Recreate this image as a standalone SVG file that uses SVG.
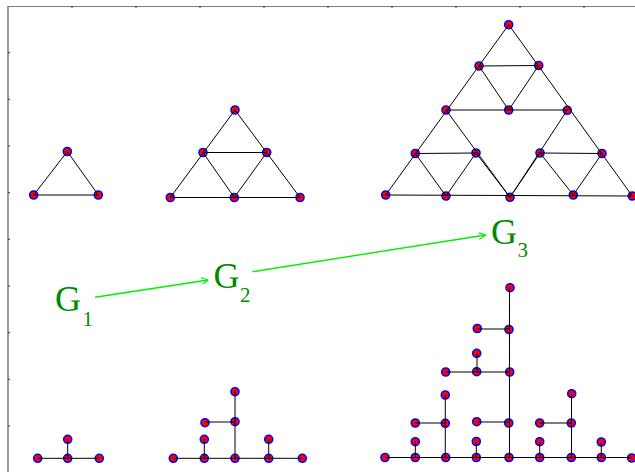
<svg xmlns="http://www.w3.org/2000/svg" width="635" height="472" viewBox="0 0 635 472">
<defs>
<style>
.frame{stroke:#808080;fill:none}
.tick{stroke:#333;stroke-width:1;fill:none}
.nd{fill:#ff0000;stroke:#0000ff;stroke-width:1.6}
.ed{stroke:#000;stroke-width:1;fill:none}
.arr{stroke:#00f000;stroke-width:1.4;fill:none}
.lbl{font-family:"Liberation Serif",serif;fill:#008a00}
.g{font-size:36px}
.s{font-size:21px}
</style>
<marker id="ah" viewBox="0 0 10 10" refX="10" refY="5" markerWidth="7" markerHeight="7" markerUnits="userSpaceOnUse" orient="auto">
<path d="M0,0 L10,5 L0,10" fill="none" stroke="#00f000" stroke-width="1.6"/>
</marker>
</defs>
<rect width="635" height="472" fill="#fff"/>
<g id="frame">
<line class="frame" x1="8" y1="6" x2="8" y2="472" stroke-width="1.6"/>
<line class="frame" x1="8" y1="6.5" x2="635" y2="6.5" stroke-width="1.2"/>
<path class="tick" d="M72,6 v2 M136,6 v2 M200,6 v2 M264,6 v2 M328,6 v2 M392,6 v2 M456,6 v2 M520,6 v2 M584,6 v2"/>
<path class="tick" d="M8,52.7 h2 M8,99.3 h2 M8,146 h2 M8,192.7 h2 M8,239.3 h2 M8,286 h2 M8,332.7 h2 M8,379.3 h2 M8,426 h2"/>
</g>
<g id="G1-triangle">
<circle class="nd" cx="67.3" cy="151.5" r="4"/>
<circle class="nd" cx="33.7" cy="195" r="4"/>
<circle class="nd" cx="98.3" cy="195" r="4"/>
</g>
<g id="G2-triangle">
<circle class="nd" cx="235" cy="110" r="4"/>
<circle class="nd" cx="203" cy="152.5" r="4"/>
<circle class="nd" cx="266.7" cy="152.5" r="4"/>
<circle class="nd" cx="170.3" cy="197.5" r="4"/>
<circle class="nd" cx="234.3" cy="197.5" r="4"/>
<circle class="nd" cx="300" cy="197.5" r="4"/>
</g>
<g id="G3-triangle">
<circle class="nd" cx="508.7" cy="24.7" r="4"/>
<circle class="nd" cx="479" cy="66" r="4"/>
<circle class="nd" cx="538.7" cy="65.5" r="4"/>
<circle class="nd" cx="446" cy="110" r="4"/>
<circle class="nd" cx="508.7" cy="110" r="4"/>
<circle class="nd" cx="567.3" cy="110.3" r="4"/>
<circle class="nd" cx="415.3" cy="153.5" r="4"/>
<circle class="nd" cx="476" cy="153" r="4"/>
<circle class="nd" cx="540" cy="153" r="4"/>
<circle class="nd" cx="602" cy="153.5" r="4"/>
<circle class="nd" cx="385.7" cy="195" r="4"/>
<circle class="nd" cx="446" cy="196" r="4"/>
<circle class="nd" cx="510" cy="197.3" r="4"/>
<circle class="nd" cx="573.3" cy="195" r="4"/>
<circle class="nd" cx="632.3" cy="196" r="4"/>
</g>
<g id="T1-tree">
<circle class="nd" cx="37.7" cy="458.3" r="4"/>
<circle class="nd" cx="67.7" cy="458.3" r="4"/>
<circle class="nd" cx="99.3" cy="458.3" r="4"/>
<circle class="nd" cx="67.7" cy="439.3" r="4"/>
</g>
<g id="T2-tree">
<circle class="nd" cx="173.3" cy="458.3" r="4"/>
<circle class="nd" cx="204.3" cy="458.3" r="4"/>
<circle class="nd" cx="235" cy="458.3" r="4"/>
<circle class="nd" cx="268.7" cy="458.3" r="4"/>
<circle class="nd" cx="302.3" cy="458.3" r="4"/>
<circle class="nd" cx="204.3" cy="439.3" r="4"/>
<circle class="nd" cx="268.7" cy="439.3" r="4"/>
<circle class="nd" cx="205" cy="422.7" r="4"/>
<circle class="nd" cx="235" cy="421.7" r="4"/>
<circle class="nd" cx="235" cy="391.7" r="4"/>
</g>
<g id="T3-tree">
<circle class="nd" cx="385" cy="457.5" r="4"/>
<circle class="nd" cx="415.3" cy="457.5" r="4"/>
<circle class="nd" cx="445.7" cy="457.5" r="4"/>
<circle class="nd" cx="476.3" cy="457.5" r="4"/>
<circle class="nd" cx="509" cy="457.5" r="4"/>
<circle class="nd" cx="539.7" cy="457.5" r="4"/>
<circle class="nd" cx="571.3" cy="457.5" r="4"/>
<circle class="nd" cx="601.3" cy="457.5" r="4"/>
<circle class="nd" cx="631.7" cy="458" r="4"/>
<circle class="nd" cx="415.3" cy="441.7" r="4"/>
<circle class="nd" cx="476.3" cy="441.5" r="4"/>
<circle class="nd" cx="539.7" cy="441.7" r="4"/>
<circle class="nd" cx="601.3" cy="442" r="4"/>
<circle class="nd" cx="415.3" cy="423" r="4"/>
<circle class="nd" cx="445.3" cy="423.3" r="4"/>
<circle class="nd" cx="476.7" cy="421.7" r="4"/>
<circle class="nd" cx="508.7" cy="423" r="4"/>
<circle class="nd" cx="539.7" cy="423" r="4"/>
<circle class="nd" cx="571.3" cy="423" r="4"/>
<circle class="nd" cx="445.3" cy="395" r="4"/>
<circle class="nd" cx="571.7" cy="393.7" r="4"/>
<circle class="nd" cx="445.7" cy="372" r="4"/>
<circle class="nd" cx="476.7" cy="371.7" r="4"/>
<circle class="nd" cx="509.7" cy="372" r="4"/>
<circle class="nd" cx="476.7" cy="353.3" r="4"/>
<circle class="nd" cx="477.3" cy="328.5" r="4"/>
<circle class="nd" cx="509" cy="329.5" r="4"/>
<circle class="nd" cx="510" cy="287.7" r="4"/>
</g>
<g id="connectors">
<path class="ed" d="M67.3,151.5 L33.7,195 L98.3,195 Z"/>
<path class="ed" d="M235,110 L170.3,197.5 L300,197.5 Z M203,152.5 L266.7,152.5 M203,152.5 L234.3,197.5 L266.7,152.5"/>
<path class="ed" d="M508.7,24.7 L385.7,195 L632.3,196 Z M479,66 L538.7,65.5 M479,66 L508.7,110 L538.7,65.5 M446,110 L567.3,110 M415.3,153.5 L476,153 M415.3,153.5 L446,196 L476,153 L510,197.3 M540,153 L602,153.5 M510,197.3 L540,153 L573.3,195 L602,153.5 M446,110 L510,197.3 L567.3,110"/>
<path class="ed" d="M37.7,458.3 H99.3 M67.7,439.3 V458.3"/>
<path class="ed" d="M173.3,458.3 H302.3 M204.3,439.3 V458.3 M268.7,439.3 V458.3 M235,391.7 V458.3 M205,422 H235"/>
<path class="ed" d="M385,457.5 H632 M415.3,441.7 V457.5 M476.3,441.5 V457.5 M539.7,441.7 V457.5 M601.3,442 V457.5 M445.3,395 V457.5 M571.5,393.7 V457.5 M509.5,287.7 V457.5 M415.3,423 H445.3 M476.7,422 H509 M539.7,423 H571.3 M445.7,372 H509.7 M477,353.3 V372 M477.3,329 H509"/>
<line class="arr" x1="95" y1="297.3" x2="208.3" y2="280" marker-end="url(#ah)"/>
<line class="arr" x1="252.3" y1="271.7" x2="485.7" y2="235" marker-end="url(#ah)"/>
</g>
<g id="labels">
<text class="lbl g" x="55" y="310.5">G</text><text class="lbl s" x="82.5" y="326">1</text>
<text class="lbl g" x="213.5" y="287.5">G</text><text class="lbl s" x="240" y="302">2</text>
<text class="lbl g" x="491" y="243.5">G</text><text class="lbl s" x="517.5" y="257">3</text>
</g>
</svg>
